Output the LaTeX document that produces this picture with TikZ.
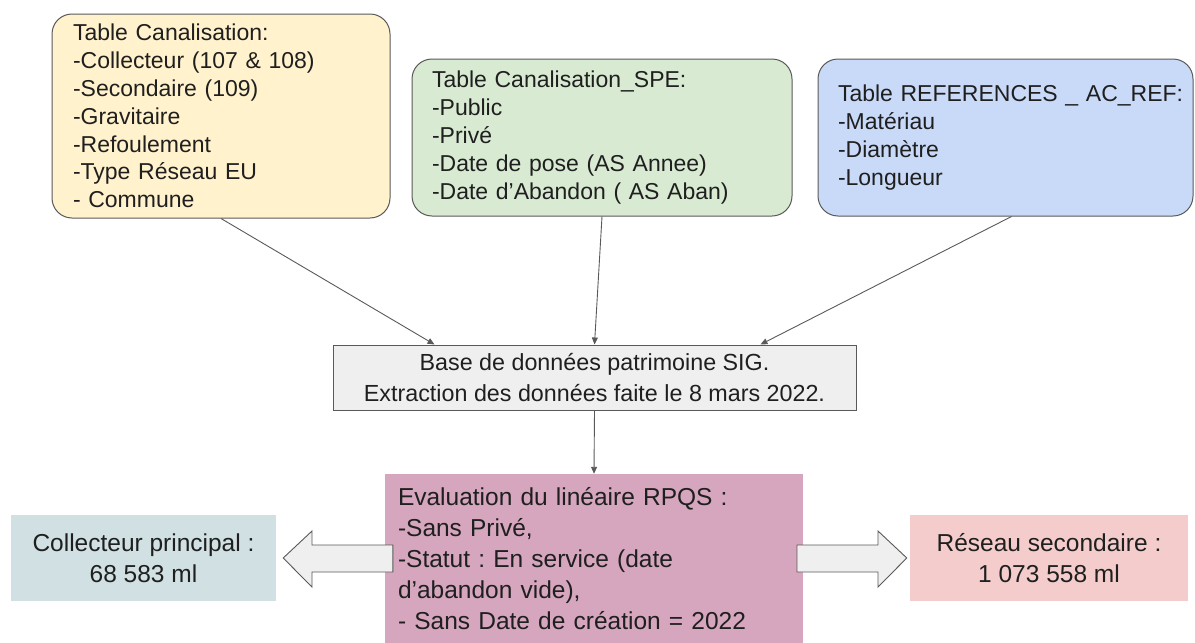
\documentclass[tikz,border=0pt]{standalone}
\usepackage{fontspec}
\setmainfont{Liberation Sans}
\usetikzlibrary{arrows.meta,calc}
\definecolor{cyellow}{HTML}{FFF2CC}
\definecolor{cgreen}{HTML}{D9EAD3}
\definecolor{cblue}{HTML}{C9DAF8}
\definecolor{cgray}{HTML}{EFEFEF}
\definecolor{cpink}{HTML}{D5A6BD}
\definecolor{cteal}{HTML}{D0E0E3}
\definecolor{cred}{HTML}{F4CCCC}
\definecolor{cline}{HTML}{595959}
\definecolor{ctext}{HTML}{1F1F1F}
\frenchspacing
\begin{document}
\begin{tikzpicture}[x=1pt,y=-1pt,
  tbox/.style={draw=cline, line width=1pt, rounded corners=20pt, align=left,
    inner ysep=0pt, text=ctext, font=\fontsize{23}{27.8}\selectfont},
  sbox/.style={inner sep=0pt, text=ctext, align=center, font=\fontsize{24.5}{31}\selectfont},
  conn/.style={draw=cline, line width=0.9pt, -{Triangle[length=7pt,width=6pt]}},
  barrow/.style={draw=cline, fill=cgray, line width=0.9pt, line join=miter}
]
\useasboundingbox (0,0) rectangle (1195,643);

% top tables
\node[tbox, fill=cyellow, minimum width=338, minimum height=204, inner xsep=21pt, text width=296pt] (t1) at (221,116)
 {Table Canalisation:\\-Collecteur (107 \& 108)\\-Secondaire (109)\\-Gravitaire\\-Refoulement\\-Type Réseau EU\\- Commune};
\node[tbox, fill=cgreen, minimum width=380, minimum height=157, inner xsep=20pt, text width=340pt] (t2) at (602,137.5)
 {Table Canalisation\_SPE:\\-Public\\-Privé\\-Date de pose (AS Annee)\\-Date d’Abandon ( AS Aban)};
\node[tbox, fill=cblue, minimum width=375, minimum height=157, inner xsep=20pt, text width=335pt] (t3) at (1005.5,137.5)
 {\makebox[335pt][l]{Table REFERENCES \_ AC\_REF:}\\-Matériau\\-Diamètre\\-Longueur};

% database
\node[draw=cline, line width=1pt, fill=cgray, minimum width=523, minimum height=65, inner sep=0pt,
  align=center, text=ctext, font=\fontsize{23.3}{31}\selectfont] (db) at (594.5,377.5)
 {Base de données patrimoine SIG.\\Extraction des données faite le 8 mars 2022.};

% evaluation
\node[fill=cpink, minimum width=418, minimum height=169, inner xsep=13pt, inner ysep=0pt, text width=392pt,
  align=left, text=ctext, font=\fontsize{24.5}{31}\selectfont] (ev) at (594,558.5)
 {Evaluation du linéaire RPQS :\\-Sans Privé,\\-Statut : En service (date\\d’abandon vide),\\- Sans Date de création = 2022};

% results
\node[sbox, fill=cteal, minimum width=265, minimum height=86] (cp) at (143.5,558)
 {Collecteur principal :\\68 583 ml};
\node[sbox, fill=cred, minimum width=278, minimum height=86] (rs) at (1049,558)
 {Réseau secondaire :\\1 073 558 ml};

% connectors
\coordinate (d1) at ($(db.north)+(-160,0)$);
\coordinate (d3) at ($(db.north)+(166,0)$);
\coordinate (s3) at ($(t3.south)+(6,0)$);
\draw[conn] (t1.south) -- (d1);
\draw[conn] (t2.south) -- (db.north);
\draw[conn] (s3) -- (d3);
\draw[conn] (db.south) -- (ev.north);

% block arrows
\coordinate (ltip) at ($(cp.east |- 0,558)+(7,0)$);
\coordinate (rtip) at ($(rs.west |- 0,558)+(-3,0)$);
\draw[barrow] ($(ev.west |- 0,545)+(8,0)$) -- (312,545) -- (312,531) -- (ltip) -- (312,587) -- (312,572) -- ($(ev.west |- 0,572)+(8,0)$) -- cycle;
\draw[barrow] (797,545) -- (878,545) -- (878,531) -- (rtip) -- (878,587) -- (878,572) -- (797,572) -- cycle;
\end{tikzpicture}
\end{document}
